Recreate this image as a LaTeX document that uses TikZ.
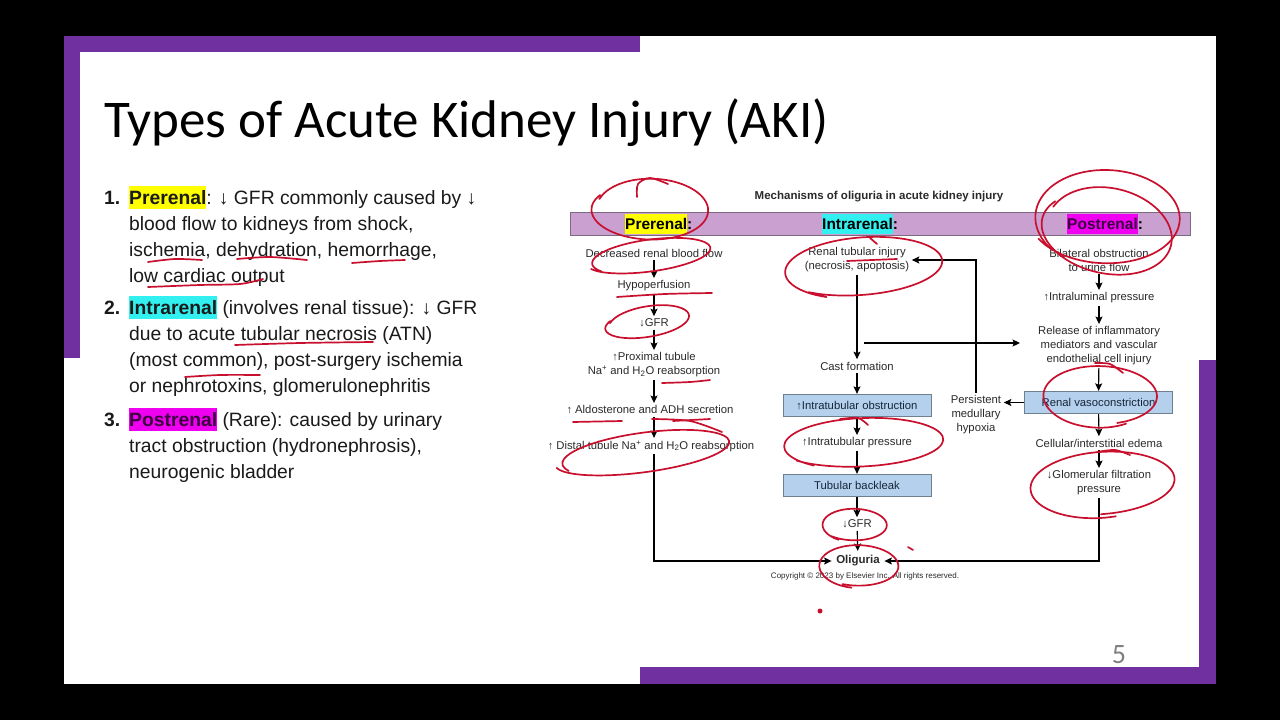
\documentclass[tikz,border=0pt]{standalone}
\usepackage{fontspec}
\setmainfont{Liberation Sans}
\newfontfamily\carlito{Carlito}
\usetikzlibrary{arrows.meta,calc}
\definecolor{purp}{HTML}{7030A0}
\definecolor{barfill}{HTML}{C9A0D0}
\definecolor{baredge}{HTML}{7A6A80}
\definecolor{boxfill}{HTML}{B5D0EC}
\definecolor{boxedge}{HTML}{6E7F90}
\definecolor{boxtxt}{HTML}{16263A}
\definecolor{hlyellow}{HTML}{FFFF00}
\definecolor{hlcyan}{HTML}{33F0F0}
\definecolor{hlmag}{HTML}{F000F0}
\definecolor{pdark}{HTML}{3A0040}
\definecolor{inkred}{HTML}{C8102E}
\definecolor{txt}{HTML}{1A1A1A}
\definecolor{dtxt}{HTML}{2A2A2A}
\newcommand\hlt[4]{{\setlength{\fboxsep}{0pt}\colorbox{#1}{\rule[-#2]{0pt}{#3}#4}}}
\newcommand\upa{{\fontsize{11}{10}\selectfont\bfseries ↑}}
\newcommand\dna{{\fontsize{11}{10}\selectfont\bfseries ↓}}
\newcommand\inkloop[6]{%
  \draw[ink, rotate around={#5:(#1,#2)}] plot[smooth, domain=#6:#6+372, samples=44, variable=\t]
  ({#1+(#3)*(1+0.00025*(\t-#6))*cos(\t)}, {#2+(#4)*(1-0.0003*(\t-#6))*sin(\t)});}
\begin{document}
\begin{tikzpicture}[x=1pt,y=-1pt,
  lst/.style={anchor=base west, inner sep=0pt, font=\fontsize{19.3}{23}\selectfont, text=txt},
  d/.style={font=\fontsize{11.3}{14}\selectfont, text=dtxt, align=center, inner sep=2.5pt},
  bx/.style={d, draw=boxedge, fill=boxfill, line width=0.8pt, minimum width=148, minimum height=22.5, text=boxtxt},
  hd/.style={anchor=base west, inner sep=0pt, font=\bfseries\fontsize{15.5}{18}\selectfont, text=black},
  arr/.style={line width=1.1pt, -{Stealth[length=7.5pt,width=7pt,inset=1.5pt]}},
  ink/.style={draw=inkred, line width=1.7pt, line cap=round, line join=round}]
\useasboundingbox (0,0) rectangle (1280,720);
% frame
\fill[black] (0,0) rectangle (1280,720);
\fill[white] (64,36) rectangle (1216,684);
\fill[purp] (64,36) rectangle (640,52);
\fill[purp] (64,36) rectangle (80,358);
\fill[purp] (640,667) rectangle (1216,684);
\fill[purp] (1199,360) rectangle (1216,684);
% title
\node[anchor=base west, inner sep=0pt, font=\carlito\fontsize{53}{60}\selectfont, text=black] (title) at (104,137) {Types of Acute Kidney Injury (AKI)};
% list
\node[lst] (n1) at (104,204) {\textbf{1.}};
\node[lst] (a1) at (129,204) {\hlt{hlyellow}{5.2pt}{23pt}{\textbf{Prerenal}}: ↓ GFR commonly caused by ↓};
\node[lst] (a2) at (129,230) {blood flow to kidneys from shock,};
\node[lst] (a3) at (129,256) {ischemia, dehydration, hemorrhage,};
\node[lst] (a4) at (129,282) {low cardiac output};
\node[lst] (n2) at (104,314) {\textbf{2.}};
\node[lst] (b1) at (129,314) {\hlt{hlcyan}{5.2pt}{23pt}{\textbf{Intrarenal}} (involves renal tissue): ↓ GFR};
\node[lst] (b2) at (129,340) {due to acute tubular necrosis (ATN)};
\node[lst] (b3) at (129,366) {(most common), post-surgery ischemia};
\node[lst] (b4) at (129,392) {or nephrotoxins, glomerulonephritis};
\node[lst] (n3) at (104,426) {\textbf{3.}};
\node[lst] (c1) at (129,426) {\hlt{hlmag}{5.2pt}{23pt}{\textbf{\color{pdark}Postrenal}} (Rare): caused by urinary};
\node[lst] (c2) at (129,452) {tract obstruction (hydronephrosis),};
\node[lst] (c3) at (129,478) {neurogenic bladder};
% page number
\node[font=\carlito\fontsize{28}{28}\selectfont, text=gray] (pg) at (1119,655) {5};
% diagram
\node[font=\bfseries\fontsize{11.5}{14}\selectfont, text=dtxt, inner sep=0pt] (dtitle) at (879,197) {Mechanisms of oliguria in acute kidney injury};
\node[draw=baredge, fill=barfill, line width=0.8pt, minimum width=620, minimum height=23, inner sep=0pt] (bar) at (880,223.5) {};
\node[hd] (hpre) at (625,229) {\hlt{hlyellow}{5pt}{20pt}{Prerenal}:};
\node[hd] (hint) at (822,229) {\hlt{hlcyan}{5pt}{20pt}{Intrarenal}:};
\node[hd] (hpost) at (1067,229) {\hlt{hlmag}{5pt}{20pt}{\color{pdark}Postrenal}:};
\coordinate (c1x) at (654,0);
% prerenal
\node[d] (drbf) at (654,253) {Decreased renal blood flow};
\node[d] (hypo) at (654,286) {Hypoperfusion};
\node[d] (gfr1) at (654,323) {\dna GFR};
\node[d] (prox) at (654,365) {\upa Proximal tubule\\Na\textsuperscript{+} and H\textsubscript{2}O reabsorption};
\node[d] (ald) at (650,410) {\upa\ Aldosterone and ADH secretion};
\node[d] (dist) at (651,446) {\upa\ Distal tubule Na\textsuperscript{+} and H\textsubscript{2}O reabsorption};
% intrarenal
\node[d] (rti) at (857,260) {Renal tubular injury\\(necrosis, apoptosis)};
\node[d] (cast) at (857,366) {Cast formation};
\node[bx] (obs) at (857,405.5) {\upa Intratubular obstruction};
\node[d] (pres) at (857,443) {\upa Intratubular pressure};
\node[bx] (back) at (857,485.5) {Tubular backleak};
\node[d] (gfr2) at (857,524) {\dna GFR};
\node[d, font=\bfseries\fontsize{11.5}{14}\selectfont, inner sep=4.5pt] (olig) at (858,561) {Oliguria};
\node[font=\fontsize{8}{10}\selectfont, text=dtxt, inner sep=0pt] (copy) at (865,576.5) {Copyright © 2023 by Elsevier Inc. All rights reserved.};
% postrenal
\node[d] (bil) at (1099,260) {Bilateral obstruction\\to urine flow};
\node[d] (intral) at (1099,298) {\upa Intraluminal pressure};
\node[d] (rel) at (1099,346) {Release of inflammatory\\mediators and vascular\\endothelial cell injury};
\node[bx] (vaso) at (1098.5,402.5) {Renal vasoconstriction};
\node[d] (edema) at (1099,443) {Cellular/interstitial edema};
\node[d] (glom) at (1099,483) {\dna Glomerular filtration\\pressure};
\node[d] (pmh) at (976,415) {Persistent\\medullary\\hypoxia};
\coordinate (hs) at (864,343);
\coordinate (he) at (1020,343);
% connectors
\draw[arr] (drbf) -- (hypo);
\draw[arr] (hypo) -- (gfr1);
\draw[arr] (gfr1) -- (prox);
\draw[arr] (prox.south -| c1x) -- (ald.north -| c1x);
\draw[arr] (ald.south -| c1x) -- (dist.north -| c1x);
\draw[arr] (dist.south -| c1x) |- (olig.west);
\draw[arr] (rti) -- (cast);
\draw[arr] (cast) -- (obs);
\draw[arr] (obs) -- (pres);
\draw[arr] (pres) -- (back);
\draw[arr] (back) -- (gfr2);
\draw[arr] (gfr2) -- (olig);
\draw[arr] (bil) -- (intral);
\draw[arr] (intral) -- (rel);
\draw[arr] (rel) -- (vaso);
\draw[arr] (vaso) -- (edema);
\draw[arr] (edema) -- (glom);
\draw[arr] (glom.south) |- (olig.east);
\draw[arr] (hs) -- (he);
\draw[arr] (pmh.north) |- (rti.east);
\draw[arr] (vaso.west) -- (vaso.west -| pmh.east);
% ink annotations
\inkloop{651}{210}{55}{32}{0}{200}
\draw[ink] plot[smooth] coordinates {(637,197) (638,184) (650,178) (668,184)};
\inkloop{650}{256}{58}{17}{8}{150}
\draw[ink] plot[smooth] coordinates {(617,297) (665,294) (712,293)};
\inkloop{648}{322}{40}{16}{10}{200}
\draw[ink] plot[smooth] coordinates {(662,383) (690,382) (710,380)};
\draw[ink] (573,422) -- (622,421);
\draw[ink] (673,421) -- (710,419);
\draw[ink] plot[smooth] coordinates {(652,419) (690,421) (722,432)};
\inkloop{644}{453}{82}{21}{8}{160}
\inkloop{862}{267}{76}{31}{5}{120}
\draw[ink] (870,238) -- (877,244);
\draw[ink] plot[smooth] coordinates {(847,261) (872,260) (897,259)};
\inkloop{862}{443}{77}{26}{3}{130}
\draw[ink] plot[smooth] coordinates {(840,419) (858,418) (868,425)};
\inkloop{854}{525}{31}{17}{0}{120}
\inkloop{858}{566}{38}{22}{0}{100}
\draw[ink] (908,547) -- (913,550);
\fill[inkred] (820,611) circle (2.5);
\inkloop{1106}{218}{70}{50}{0}{140}
\inkloop{1108}{232}{62}{45}{-10}{200}
\inkloop{1099}{396}{54}{32}{0}{60}
\draw[ink] plot[smooth] coordinates {(1123,373) (1110,364) (1095,363)};
\inkloop{1101}{484}{69}{34}{5}{80}
\draw[ink] plot[smooth] coordinates {(1097,452) (1115,450) (1130,455)};
% left text underlines
\draw[ink] plot[smooth] coordinates {(148,262) (175,259) (202,260)};
\draw[ink] plot[smooth] coordinates {(237,259) (270,257) (307,260)};
\draw[ink] plot[smooth] coordinates {(352,263) (380,261) (405,260)};
\draw[ink] plot[smooth] coordinates {(148,287) (200,285) (240,284) (263,279)};
\draw[ink] plot[smooth] coordinates {(235,345) (300,343) (373,342)};
\draw[ink] plot[smooth] coordinates {(185,377) (220,375) (260,375)};
\end{tikzpicture}
\end{document}
